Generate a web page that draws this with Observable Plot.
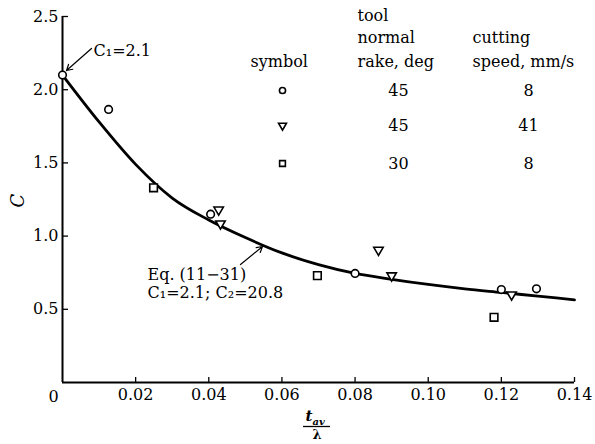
<!DOCTYPE html>
<html><head><meta charset="utf-8">
<script src="https://cdn.jsdelivr.net/npm/d3@7"></script>
<script src="https://cdn.jsdelivr.net/npm/@observablehq/plot@0.6"></script>
<style>body{margin:0;background:#fff}#chart{width:595px;height:444px}</style>
</head><body><div id="chart"></div>
<script>
// ---- data ----
const xTicks = [0, 0.02, 0.04, 0.06, 0.08, 0.10, 0.12, 0.14];
const yTicks = [0.5, 1.0, 1.5, 2.0, 2.5];

const circleX = [0, 0.0126, 0.0405, 0.080, 0.120, 0.1296];
const circleC = [2.10, 1.865, 1.15, 0.745, 0.635, 0.64];
const triX = [0.0427, 0.0432, 0.0864, 0.090, 0.1228];
const triC = [1.18, 1.085, 0.905, 0.73, 0.60];
const squareX = [0.0249, 0.0697, 0.118];
const squareC = [1.33, 0.73, 0.445];

const curveX = [0, 0.01, 0.02, 0.03, 0.04, 0.05, 0.06, 0.07, 0.08, 0.09, 0.10, 0.11, 0.12, 0.13, 0.14];
const curveC = [2.10, 1.78, 1.49, 1.26, 1.11, 0.99, 0.885, 0.805, 0.745, 0.705, 0.67, 0.64, 0.615, 0.59, 0.565];

const legendSymbols = ["circle", "triangle", "square"];
const legendRake = ["45", "45", "30"];
const legendSpeed = ["8", "41", "8"];

// ---- layout ----
const W = 595, H = 444, ML = 62, MR = 21, MT = 16, MB = 62;
const XD = [0, 0.14], YD = [0, 2.5];
const px = p => XD[0] + (p - ML) / (W - ML - MR) * (XD[1] - XD[0]);
const py = p => YD[0] + (H - MB - p) / (H - MT - MB) * (YD[1] - YD[0]);

const pts = (xs, ys) => xs.map((x, i) => ({x, y: ys[i]}));
const circles = pts(circleX, circleC);
const tris = pts(triX, triC);
const squares = pts(squareX, squareC);
const curve = pts(curveX, curveC);

const dotStyle = {x: "x", y: "y", stroke: "black", fill: "white", strokeWidth: 1.6};
const legendRowsY = [90, 125, 163];
const legend = legendSymbols.map((s, i) => ({s, rake: legendRake[i], speed: legendSpeed[i], yy: py(legendRowsY[i])}));

const T = (text, x, y, o = {}) => Plot.text([text], {x: px(x), y: py(y), text: d => d, textAnchor: "start", fontSize: 16, ...o});

const chart = Plot.plot({
  width: W, height: H,
  marginLeft: ML, marginRight: MR, marginTop: MT, marginBottom: MB,
  style: {fontFamily: "DejaVu Serif", fontSize: "16px", background: "white", color: "black"},
  x: {domain: XD, axis: null},
  y: {domain: YD, axis: null},
  marks: [
    // axes lines and inward ticks
    Plot.ruleX([0], {y1: 0, y2: 2.5, strokeWidth: 2}),
    Plot.ruleY([0], {x1: 0, x2: 0.14, strokeWidth: 2}),
    Plot.ruleX(xTicks.slice(1), {x: d => d, y1: 0, y2: py(H - MB - 5), strokeWidth: 1.3}),
    Plot.ruleY(yTicks, {y: d => d, x1: 0, x2: px(ML + 6), strokeWidth: 1.3}),
    Plot.axisX(xTicks.slice(1), {tickSize: 0, tickPadding: 6, tickFormat: d => d.toFixed(2), fontSize: 16, label: null}),
    Plot.text([0], {x: d => d, y: 0, text: () => "0", dx: -9, dy: 14, fontSize: 16}),
    Plot.axisY(yTicks, {tickSize: 0, tickPadding: 4, tickFormat: d => d.toFixed(1), fontSize: 16, label: null}),

    // fitted curve
    Plot.line(curve, {x: "x", y: "y", curve: "monotone-x", strokeWidth: 2.8, stroke: "black"}),

    // data points
    Plot.dot(circles, {...dotStyle, symbol: "circle", r: 3.8}),
    Plot.dot(tris, {...dotStyle, symbol: "triangle", r: 3.5, rotate: 180}),
    Plot.dot(squares, {...dotStyle, symbol: "square", r: 4.3}),

    // annotations
    Plot.arrow([{x1: px(91), y1: py(48), x2: px(66), y2: py(70)}], {x1: "x1", y1: "y1", x2: "x2", y2: "y2", headLength: 8, strokeWidth: 1.2}),
    T("C₁=2.1", 93, 50),
    Plot.arrow([{x1: px(240), y1: py(264), x2: px(262), y2: py(246)}], {x1: "x1", y1: "y1", x2: "x2", y2: "y2", headLength: 8, strokeWidth: 1.2}),
    T("Eq. (11−31)", 147, 274),
    T("C₁=2.1; C₂=20.8", 147, 292),

    // axis titles
    Plot.text(["C"], {x: px(18), y: py(200), text: d => d, rotate: -90, fontSize: 18, fontStyle: "italic"}),
    T("t", 305, 416, {fontStyle: "italic", fontWeight: "bold", fontSize: 15}),
    T("av", 312, 421, {fontStyle: "italic", fontWeight: "bold", fontSize: 10}),
    Plot.ruleY([py(426)], {x1: px(303), x2: px(330), strokeWidth: 1.3}),
    T("λ", 312, 434, {fontWeight: "bold", fontSize: 13}),

    // legend table
    T("tool", 357, 15),
    T("normal", 357, 37),
    T("rake, deg", 357, 61),
    T("symbol", 250, 61),
    T("cutting", 472, 37),
    T("speed, mm/s", 472, 61),
    Plot.dot(legend, {x: () => px(282), y: "yy", symbol: "s", stroke: "black", fill: "white", strokeWidth: 1.6, r: d => d.s === "square" ? 4.3 : d.s === "triangle" ? 3.5 : 3.8, rotate: d => d.s === "triangle" ? 180 : 0}),
    Plot.text(legend, {x: () => px(398), y: "yy", text: "rake", fontSize: 16}),
    Plot.text(legend, {x: () => px(528), y: "yy", text: "speed", fontSize: 16})
  ]
});
document.getElementById("chart").appendChild(chart);
</script>
</body></html>
